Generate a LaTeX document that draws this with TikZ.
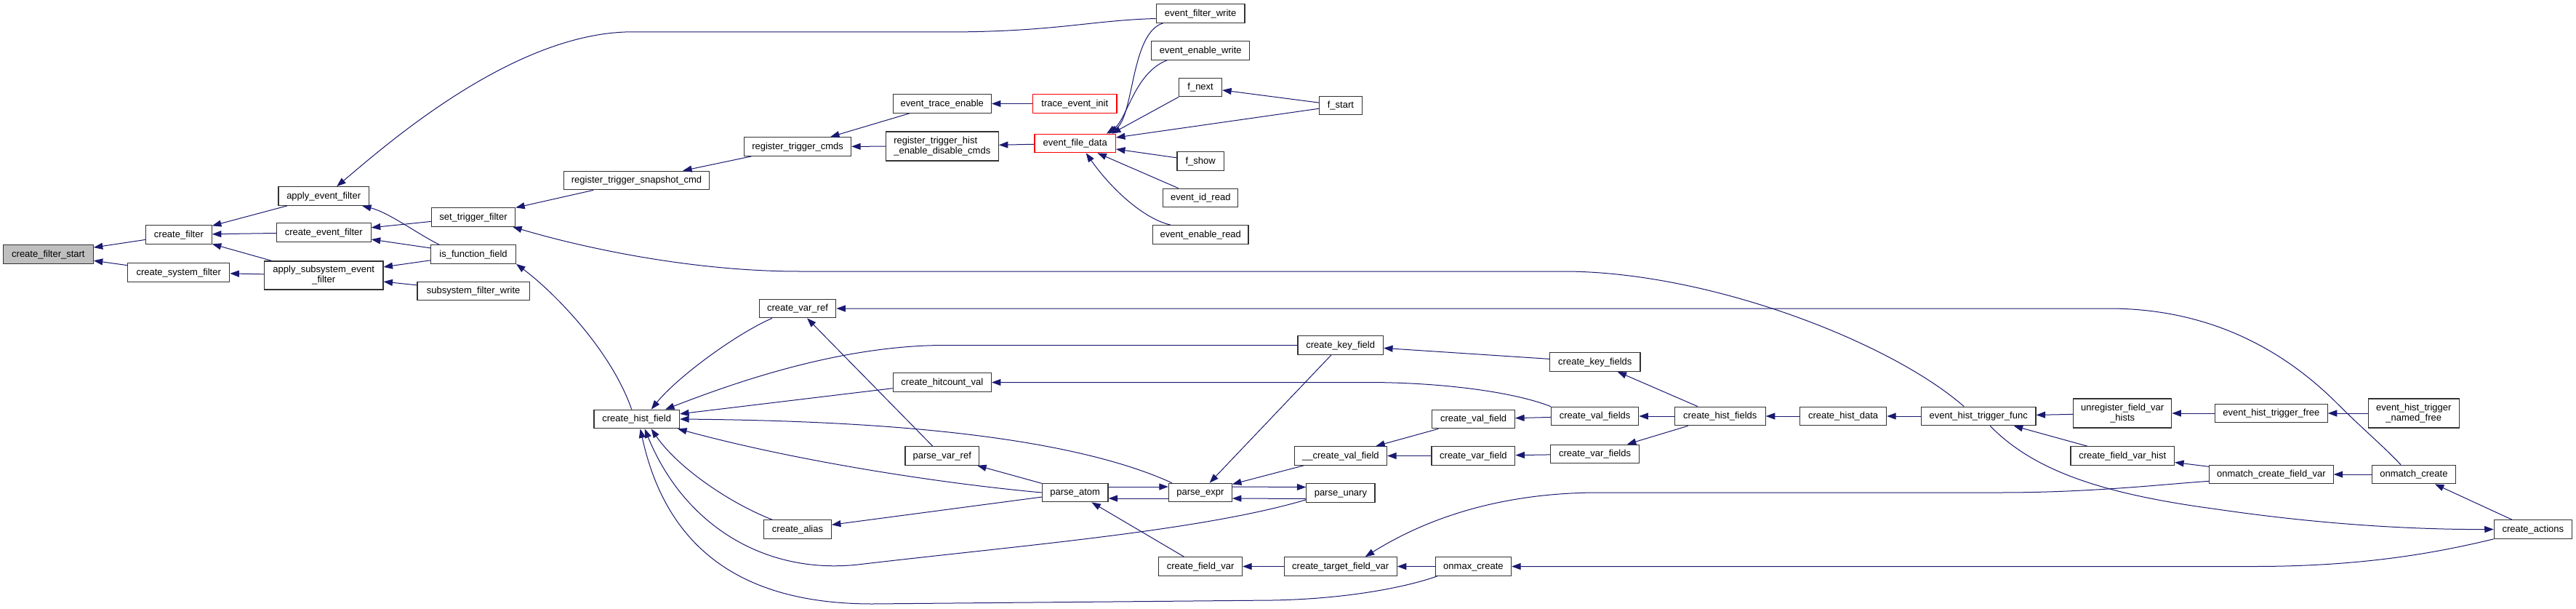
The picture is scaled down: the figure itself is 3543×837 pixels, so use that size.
\documentclass[tikz,border=0pt]{standalone}
\usepackage{fontspec}
\setmainfont{Liberation Sans}
\usetikzlibrary{arrows.meta}
\definecolor{mblue}{RGB}{25,25,112}
\definecolor{rootfill}{RGB}{191,191,191}
\definecolor{nodeborder}{RGB}{51,51,51}
\tikzset{
  fnbox/.style={draw=nodeborder, line width=1.2pt, fill=white, rectangle, inner sep=0pt,
    minimum height=25.5pt, font=\fontsize{13}{14}\selectfont, text height=10pt, text depth=2.4pt},
  fnboxtwo/.style={fnbox, minimum height=40pt, text height={}, text depth={}, align=center},
  rootbox/.style={fnbox, fill=rootfill},
  redbox/.style={fnbox, draw=red},
  edge/.style={draw=mblue, line width=1pt, {Triangle[length=12.5pt,width=9pt]}-},
}
\begin{document}
\begin{tikzpicture}[x=1pt, y=-1pt]
\useasboundingbox (0,0) rectangle (3543,837);
\fill[white] (0,0) rectangle (3543,837);

% ---------- nodes ----------
\node[rootbox, minimum width=123.6pt] (cfs) at (66.4,349.5) {create\_filter\_start};
\node[fnbox, minimum width=90.7pt] (cf) at (245.9,322.5) {create\_filter};
\node[fnbox, minimum width=140.1pt] (csf) at (245.7,374.5) {create\_system\_filter};
\node[fnbox, minimum width=124.4pt] (aef) at (445.2,269.5) {apply\_event\_filter};
\node[fnbox, minimum width=129.7pt] (cef) at (445.3,319.5) {create\_event\_filter};
\node[fnboxtwo, minimum width=163.4pt, minimum height=39pt] (asef) at (445.2,378.5) {apply\_subsystem\_event\\\_filter};
\node[fnbox, minimum width=115.2pt] (stf) at (651.0,298.5) {set\_trigger\_filter};
\node[fnbox, minimum width=116.7pt] (iff) at (651.1,349.5) {is\_function\_field};
\node[fnbox, minimum width=154.1pt] (sfw) at (651.1,400) {subsystem\_filter\_write};
\node[fnbox, minimum width=200.5pt] (rtsc) at (875.5,248) {register\_trigger\_snapshot\_cmd};
\node[fnbox, minimum width=117.5pt] (chf) at (875.7,576) {create\_hist\_field};
\node[fnbox, minimum width=146.9pt] (rtc) at (1097.1,201.5) {register\_trigger\_cmds};
\node[fnbox, minimum width=105.6pt] (cvr) at (1097.0,424) {create\_var\_ref};
\node[fnbox, minimum width=92.6pt] (calias) at (1097.0,727.5) {create\_alias};
\node[fnbox, minimum width=135.1pt] (ete) at (1295.8,142.5) {event\_trace\_enable};
\node[fnboxtwo, align=left, minimum width=154.9pt] (rthedc) at (1295.8,201) {register\_trigger\_hist\\\_enable\_disable\_cmds};
\node[fnbox, minimum width=135.1pt] (chv) at (1295.8,525.5) {create\_hitcount\_val};
\node[fnbox, minimum width=101.5pt] (pvr) at (1295.8,626.5) {parse\_var\_ref};
\node[redbox, minimum width=115.2pt] (tei) at (1478.3,142.5) {trace\_event\_init};
\node[redbox, minimum width=111.3pt] (efd) at (1478.7,197) {event\_file\_data};
\node[fnbox, minimum width=90.7pt] (patom) at (1478.7,677) {parse\_atom};
\node[fnbox, minimum width=121.7pt] (efw) at (1651.1,18.5) {event\_filter\_write};
\node[fnbox, minimum width=135.1pt] (eew) at (1651.3,69.5) {event\_enable\_write};
\node[fnbox, minimum width=58.9pt] (fnext) at (1651.1,120) {f\_next};
\node[fnbox, minimum width=64.3pt] (fshow) at (1651.1,221.5) {f\_show};
\node[fnbox, minimum width=102.9pt] (eidr) at (1651.3,272) {event\_id\_read};
\node[fnbox, minimum width=131.3pt] (eer) at (1651.3,322.5) {event\_enable\_read};
\node[fnbox, minimum width=86.9pt] (pexpr) at (1650.9,677) {parse\_expr};
\node[fnbox, minimum width=114.7pt] (cfv) at (1651.1,778.5) {create\_field\_var};
\node[fnbox, minimum width=58.9pt] (fstart) at (1843.9,145) {f\_start};
\node[fnbox, minimum width=117.5pt] (ckf) at (1843.7,474.5) {create\_key\_field};
\node[fnbox, minimum width=127.1pt] (ucvf) at (1843.9,626.5) {\_\_create\_val\_field};
\node[fnbox, minimum width=94.1pt] (punary) at (1843.9,677.5) {parse\_unary};
\node[fnbox, minimum width=155.0pt] (ctfv) at (1843.7,778.5) {create\_target\_field\_var};
\node[fnbox, minimum width=113.7pt] (cvalf) at (2026.6,576) {create\_val\_field};
\node[fnbox, minimum width=114.8pt] (cvarf) at (2026.4,626.5) {create\_var\_field};
\node[fnbox, minimum width=104.1pt] (omx) at (2026.4,778.5) {onmax\_create};
\node[fnbox, minimum width=124.4pt] (ckfs) at (2193.8,497.5) {create\_key\_fields};
\node[fnbox, minimum width=120.2pt] (cvalfs) at (2193.6,572) {create\_val\_fields};
\node[fnbox, minimum width=121.6pt] (cvarfs) at (2193.6,624) {create\_var\_fields};
\node[fnbox, minimum width=124.7pt] (chfs) at (2365.8,572) {create\_hist\_fields};
\node[fnbox, minimum width=119.0pt] (chd) at (2535.1,572) {create\_hist\_data};
\node[fnbox, minimum width=157.6pt] (ehtf) at (2721.2,572) {event\_hist\_trigger\_func};
\node[fnboxtwo, minimum width=135.0pt] (ufvh) at (2919.2,568) {unregister\_field\_var\\\_hists};
\node[fnbox, minimum width=142.6pt] (cfvh) at (2919.2,626.5) {create\_field\_var\_hist};
\node[fnbox, minimum width=154.7pt] (ehtfree) at (3123.8,568) {event\_hist\_trigger\_free};
\node[fnbox, minimum width=170.6pt] (ocfv) at (3123.8,652) {onmatch\_create\_field\_var};
\node[fnboxtwo, minimum width=125.2pt] (ehtnf) at (3319.7,568) {event\_hist\_trigger\\\_named\_free};
\node[fnbox, minimum width=114.9pt] (omc) at (3319.9,652) {onmatch\_create};
\node[fnbox, minimum width=107.0pt] (cact) at (3483.8,727.5) {create\_actions};

% ---------- edges (arrow head at the called function) ----------
\draw[edge] (cfs) -- (cf);
\draw[edge] (cfs) -- (csf);
\draw[edge] (cf) -- (aef);
\draw[edge] (cf) -- (cef);
\draw[edge] (cf) -- (asef);
\draw[edge] (csf) -- (asef);
\draw[edge] ([xshift=18pt]aef.north) .. controls (530,200) and (700,50) .. (860,44) -- (1300,44) .. controls (1450,44) and (1500,28) .. ([yshift=-7pt]efw.west);
\draw[edge] ([xshift=-10pt]aef.south east) .. controls (535,292) and (575,322) .. ([xshift=12pt]iff.north west);
\draw[edge] (cef) -- (stf);
\draw[edge] (cef) -- (iff);
\draw[edge] (asef) -- (iff);
\draw[edge] (asef) -- (sfw);
\draw[edge] (stf) -- (rtsc);
\draw[edge] ([xshift=-4pt]stf.south east) .. controls (800,340) and (950,373) .. (1100,373) -- (2150,373) .. controls (2350,373) and (2600,470) .. ([xshift=-20pt]ehtf.north);
\draw[edge] (iff.south east) .. controls (760,400) and (840,480) .. ([xshift=-7pt]chf.north);
\draw[edge] (rtsc) -- (rtc);
\draw[edge] (rtc) -- (ete);
\draw[edge] (rtc) -- (rthedc);
\draw[edge] (ete) -- (tei);
\draw[edge] (rthedc) -- (efd);
\draw[edge] ([xshift=-10pt]efd.north east) .. controls (1560,160) and (1555,45) .. ([xshift=10pt]efw.south west);
\draw[edge] ([xshift=-13pt]efd.north east) .. controls (1550,165) and (1560,100) .. ([xshift=22pt]eew.south west);
\draw[edge] ([xshift=-6pt]efd.north east) -- (fnext.south west);
\draw[edge] (efd) -- (fstart);
\draw[edge] (fnext) -- (fstart);
\draw[edge] (efd) -- (fshow);
\draw[edge] (efd) -- (eidr);
\draw[edge] ([xshift=15pt]efd.south) .. controls (1525,255) and (1570,300) .. ([xshift=25pt]eer.north west);

\draw[edge] ([xshift=20pt]chf.north) .. controls (930,520) and (1010,460) .. ([xshift=-35pt]cvr.south);
\draw[edge] ([xshift=-20pt]chf.north east) .. controls (1000,530) and (1150,474.5) .. (1300,474.5) -- (ckf.west);
\draw[edge] (chf) -- (chv);
\draw[edge] (chf.east) .. controls (1150,578) and (1450,590) .. ([xshift=5pt]pexpr.north west);
\draw[edge] ([xshift=-3pt]chf.south east) .. controls (1100,635) and (1300,665) .. (patom.west);
\draw[edge] ([xshift=20pt]chf.south) .. controls (930,640) and (1000,690) .. ([xshift=-35pt]calias.north);
\draw[edge] ([xshift=11pt]chf.south) .. controls (940,720) and (1050,790) .. (1180,776) .. controls (1400,750) and (1650,730) .. ([yshift=4pt]punary.south west);
\draw[edge] ([xshift=5pt]chf.south) .. controls (920,770) and (1040,830) .. (1200,830) -- (1750,825) .. controls (1860,823) and (1940,805) .. ([xshift=3pt]omx.south west);
\draw[edge] (cvr) -- (pvr);
\draw[edge] (cvr.east) -- (2900,424) .. controls (3050,424) and (3150,490) .. (3215,555) .. controls (3250,590) and (3280,615) .. ([xshift=-18pt]omc.north);
\draw[edge] (ckf) -- (ckfs);
\draw[edge] (chv.east) -- (1880,525.5) .. controls (1980,525.5) and (2080,538) .. (cvalfs.north west);
\draw[edge] (pvr) -- (patom);
\draw[edge] (calias) -- (patom);
\draw[edge] ([yshift=8pt]pexpr.west) -- ([yshift=8pt]patom.east);
\draw[edge] ([yshift=-8pt]patom.east) -- ([yshift=-8pt]pexpr.west);
\draw[edge] (patom) -- (cfv);
\draw[edge] (pexpr) -- (ckf);
\draw[edge] ([yshift=8pt]punary.west) -- ([yshift=8pt]pexpr.east);
\draw[edge] ([yshift=-8pt]pexpr.east) -- ([yshift=-8pt]punary.west);
\draw[edge] (pexpr) -- (ucvf);
\draw[edge] (ucvf) -- (cvalf);
\draw[edge] (ucvf) -- (cvarf);
\draw[edge] (cvalf) -- (cvalfs);
\draw[edge] (cvarf) -- (cvarfs);
\draw[edge] (ckfs) -- (chfs);
\draw[edge] (cvalfs) -- (chfs);
\draw[edge] (cvarfs) -- (chfs);
\draw[edge] (cfv) -- (ctfv);
\draw[edge] (ctfv) -- (omx);
\draw[edge] ([xshift=34pt]ctfv.north) .. controls (1950,720) and (2050,677) .. (2200,677) -- (2750,677) .. controls (2880,677) and (2980,665) .. ([yshift=4pt]ocfv.south west);
\draw[edge] (omx.east) -- (3100,778.5) .. controls (3250,778.5) and (3350,760) .. (cact.south west);
\draw[edge] (chfs) -- (chd);
\draw[edge] (chd) -- (ehtf);
\draw[edge] (ehtf) -- (ufvh);
\draw[edge] (ehtf) -- (cfvh);
\draw[edge] (cact.west) .. controls (3330,728) and (3200,722) .. (3050,700) .. controls (2900,680) and (2800,650) .. ([xshift=16pt]ehtf.south);
\draw[edge] (ufvh) -- (ehtfree);
\draw[edge] (ehtfree) -- (ehtnf);
\draw[edge] (cfvh) -- (ocfv);
\draw[edge] (ocfv) -- (omc);
\draw[edge] (omc) -- (cact);
\end{tikzpicture}
\end{document}
